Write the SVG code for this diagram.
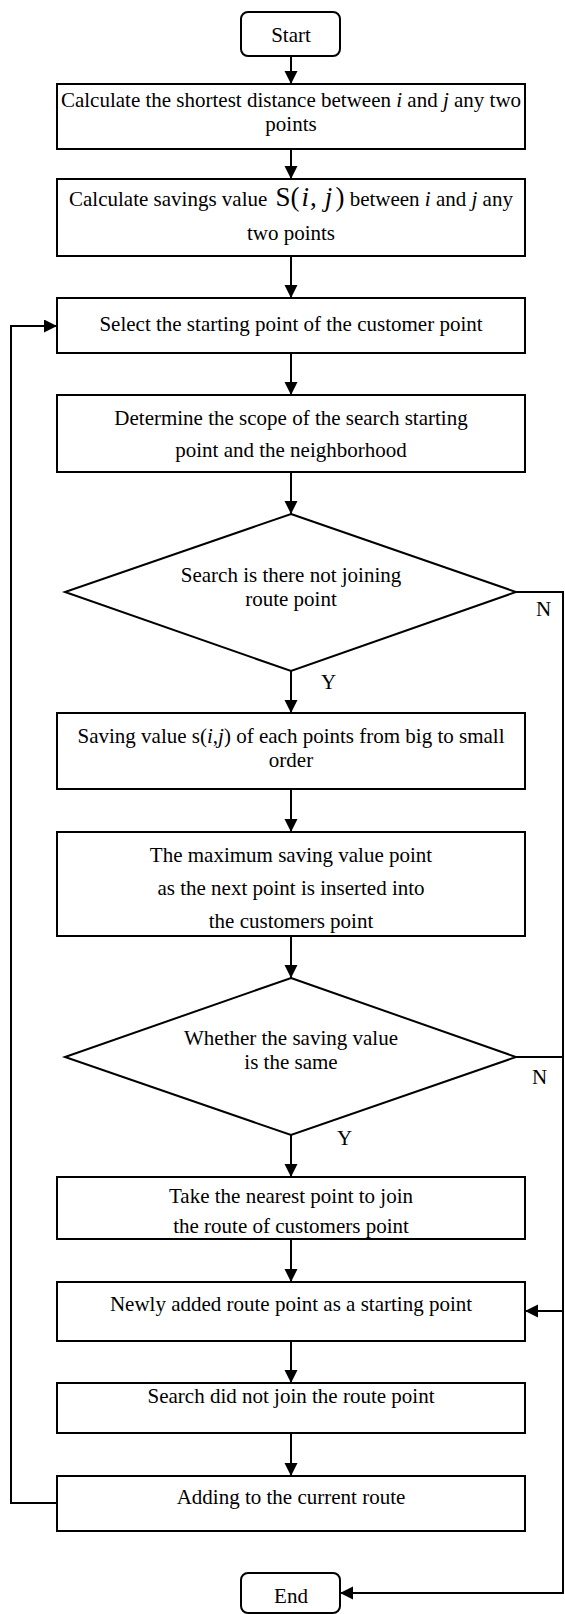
<svg xmlns="http://www.w3.org/2000/svg" width="565" height="1614" viewBox="0 0 565 1614">
<defs>
<marker id="ah" markerUnits="userSpaceOnUse" markerWidth="14" markerHeight="14" refX="13" refY="6.5" orient="auto">
<path d="M0,0 L13,6.5 L0,13 Z" fill="#000"/>
</marker>
<style>
.b{fill:#fff;stroke:#000;stroke-width:2}
.t{font-family:"Liberation Serif","Times New Roman",serif;font-size:21px;fill:#000;text-anchor:middle}
.l{font-family:"Liberation Serif","Times New Roman",serif;font-size:21px;fill:#000}
.c{fill:none;stroke:#000;stroke-width:2}
.i{font-style:italic}
</style>
</defs>
<rect width="565" height="1614" fill="#fff"/>
<g id="connectors">
<line class="c" x1="291" y1="56" x2="291" y2="84" marker-end="url(#ah)"/>
<line class="c" x1="291" y1="149" x2="291" y2="179" marker-end="url(#ah)"/>
<line class="c" x1="291" y1="256" x2="291" y2="298" marker-end="url(#ah)"/>
<line class="c" x1="291" y1="353" x2="291" y2="395" marker-end="url(#ah)"/>
<line class="c" x1="291" y1="472" x2="291" y2="514" marker-end="url(#ah)"/>
<line class="c" x1="291" y1="671" x2="291" y2="713" marker-end="url(#ah)"/>
<line class="c" x1="291" y1="789" x2="291" y2="832" marker-end="url(#ah)"/>
<line class="c" x1="291" y1="936" x2="291" y2="978" marker-end="url(#ah)"/>
<line class="c" x1="291" y1="1135" x2="291" y2="1177" marker-end="url(#ah)"/>
<line class="c" x1="291" y1="1239" x2="291" y2="1282" marker-end="url(#ah)"/>
<line class="c" x1="291" y1="1341" x2="291" y2="1383" marker-end="url(#ah)"/>
<line class="c" x1="291" y1="1433" x2="291" y2="1476" marker-end="url(#ah)"/>
<polyline class="c" points="516,592 563,592 563,1593 340,1593" marker-end="url(#ah)"/>
<line class="c" x1="516" y1="1057" x2="563" y2="1057"/>
<line class="c" x1="563" y1="1311" x2="525" y2="1311" marker-end="url(#ah)"/>
<polyline class="c" points="57,1503 11,1503 11,326 57,326" marker-end="url(#ah)"/>
<text class="l" x="536" y="616">N</text>
<text class="l" x="532" y="1084">N</text>
<text class="l" x="321" y="689">Y</text>
<text class="l" x="337" y="1145">Y</text>
</g>
<g id="start">
<rect class="b" x="241" y="12" width="99" height="44" rx="7"/>
<text class="t" x="291" y="42">Start</text>
</g>
<g id="n1">
<rect class="b" x="57" y="84" width="468" height="65"/>
<text class="t" x="291" y="107">Calculate the shortest distance between <tspan class="i">i</tspan> and <tspan class="i">j</tspan> any two</text>
<text class="t" x="291" y="131">points</text>
</g>
<g id="n2">
<rect class="b" x="57" y="179" width="468" height="77"/>
<text class="t" x="291" y="206">Calculate savings value <tspan font-size="27" dx="3">S(</tspan><tspan font-size="27" class="i" dx="2">i</tspan><tspan font-size="27" dx="1">,</tspan><tspan font-size="27" class="i" dx="8">j</tspan><tspan font-size="27" dx="3">)</tspan> between <tspan class="i">i</tspan> and <tspan class="i">j</tspan> any</text>
<text class="t" x="291" y="240">two points</text>
</g>
<g id="n3">
<rect class="b" x="57" y="298" width="468" height="55"/>
<text class="t" x="291" y="331">Select the starting point of the customer point</text>
</g>
<g id="n4">
<rect class="b" x="57" y="395" width="468" height="77"/>
<text class="t" x="291" y="425">Determine the scope of the search starting</text>
<text class="t" x="291" y="457">point and the neighborhood</text>
</g>
<g id="d1">
<polygon class="b" points="291,514 516,592 291,671 65,592"/>
<text class="t" x="291" y="582">Search is there not joining</text>
<text class="t" x="291" y="606">route point</text>
</g>
<g id="n5">
<rect class="b" x="57" y="713" width="468" height="76"/>
<text class="t" x="291" y="743">Saving value s(<tspan class="i">i</tspan>,<tspan class="i">j</tspan>) of each points from big to small</text>
<text class="t" x="291" y="767">order</text>
</g>
<g id="n6">
<rect class="b" x="57" y="832" width="468" height="104"/>
<text class="t" x="291" y="862">The maximum saving value point</text>
<text class="t" x="291" y="895">as the next point is inserted into</text>
<text class="t" x="291" y="928">the customers point</text>
</g>
<g id="d2">
<polygon class="b" points="291,978 516,1057 291,1135 65,1057"/>
<text class="t" x="291" y="1045">Whether the saving value</text>
<text class="t" x="291" y="1069">is the same</text>
</g>
<g id="n7">
<rect class="b" x="57" y="1177" width="468" height="62"/>
<text class="t" x="291" y="1203">Take the nearest point to join</text>
<text class="t" x="291" y="1233">the route of customers point</text>
</g>
<g id="n8">
<rect class="b" x="57" y="1282" width="468" height="59"/>
<text class="t" x="291" y="1311">Newly added route point as a starting point</text>
</g>
<g id="n9">
<rect class="b" x="57" y="1383" width="468" height="50"/>
<text class="t" x="291" y="1403">Search did not join the route point</text>
</g>
<g id="n10">
<rect class="b" x="57" y="1476" width="468" height="55"/>
<text class="t" x="291" y="1504">Adding to the current route</text>
</g>
<g id="end">
<rect class="b" x="241" y="1573" width="99" height="40" rx="7"/>
<text class="t" x="291" y="1603">End</text>
</g>
</svg>
